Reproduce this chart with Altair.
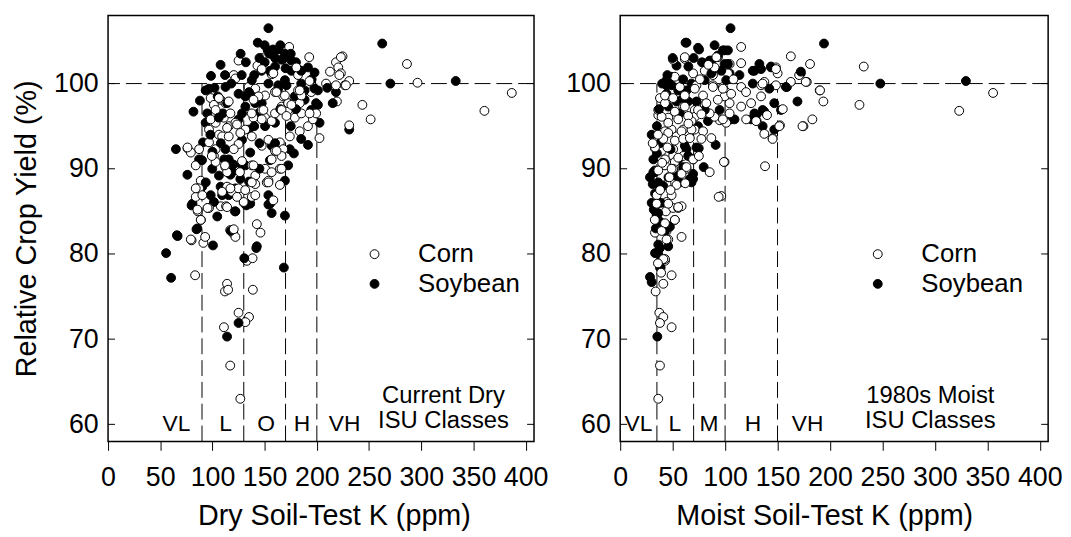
import altair as alt
import pandas as pd

FONT = "Liberation Sans"

# ---------------- data ----------------
corn_dry = [
    (83.4, 77.5), (114, 76.5), (112, 75.6), (115, 75.8), (138.7, 75.8), (125, 73.1), (135, 72.6), (131.5, 72),
    (111, 71.4), (117, 66.9), (126.7, 63), (80, 81.6), (91.3, 81.3), (93, 82), (89, 84), (86, 85), (95.7, 85.4),
    (142.5, 83.5), (146, 82.5), (117, 82.8), (120, 82.4), (122, 82), (133, 79.2), (138.4, 79.5), (108, 85.6),
    (113, 85.6), (130, 86), (173.5, 104.3), (192.7, 103.1), (224.6, 103.2), (218.3, 102.5), (220.5, 101.9),
    (212.6, 101.4), (223, 101.2), (231, 100.3), (226.8, 99.8), (208.8, 100), (286.3, 102.3), (296.4, 100.1),
    (360.5, 96.8), (386.7, 98.9), (251.5, 95.8), (243.6, 97.5), (231, 95.1), (219.2, 97.9), (202.5, 93.6),
    (125, 102.7), (147.2, 103), (143.1, 102.1), (156.7, 101.1), (182, 101.7), (182, 101), (194.6, 100.2),
    (194.6, 99), (120.4, 101), (122, 100.6), (134.6, 99.6), (141, 99.4), (98.3, 98.3), (101.4, 97.5),
    (107.8, 98.1), (112.5, 97.7), (99.8, 96.1), (103, 95.4), (110.9, 96), (115.6, 95), (96.7, 94.6), (106.2, 94),
    (109.3, 93.8), (96.7, 93.1), (103, 92.3), (101.4, 91.5), (76.1, 92.4), (87.2, 92.3), (79.3, 91.9), (84, 90.4),
    (88.8, 88.6), (85.6, 87.7), (84, 86.7), (85.6, 85.2), (122, 95.4), (131.5, 94.6), (139.3, 96), (147.2, 96.9),
    (150.4, 96), (156.7, 95.6), (159.9, 96.5), (166.2, 97.3), (172.5, 96.9), (178.9, 96), (183.6, 97.7),
    (185.2, 96.5), (191.5, 95), (196.2, 95.8), (199.3, 96.5), (159.9, 99), (167.8, 98.5), (182, 99.2),
    (185.2, 98.6), (172.5, 97.7), (115.6, 93.8), (125, 92.9), (137.7, 93.8), (147.2, 92.7), (153.6, 93.4),
    (159.9, 92.1), (164.6, 93.1), (167.8, 92.3), (174.1, 93.8), (183.6, 94.4), (103, 90.8), (112.5, 90.2),
    (114, 89.6), (120.4, 92.3), (128.3, 90.9), (137.7, 90.4), (141, 89.2), (150.4, 90), (152, 88.4), (156.7, 89.6),
    (164.6, 90), (166.2, 91.5), (164.6, 88.1), (87.2, 87.7), (96.7, 85.4), (114, 87.9), (118.8, 87.3), (125, 87.7),
    (129.9, 86.1), (137.7, 86.7), (141, 88.2), (153.6, 88.6), (158.3, 86.3), (161.4, 99), (169.4, 98.6),
    (150.4, 98.6), (144.1, 98.5), (139.3, 98.1), (183.6, 99.2), (175.6, 97.5), (166.2, 96.9), (148.8, 96.9),
    (137.7, 96.5), (147.2, 95.8), (170.9, 96.2), (193, 96.5), (106.2, 98.3), (115.6, 97.9), (103, 96.9),
    (98.3, 95.8), (117.2, 96.5), (114, 94.8), (123.5, 95.2), (126.7, 94.2), (76.1, 92.5), (99.4, 91.5),
    (112, 90.4), (126.3, 89.6), (84, 87.7), (90.3, 86.9), (109.3, 87.3), (117.2, 87.7), (131.4, 87.5),
    (123.5, 86.7), (114, 85.5), (95.3, 85.4), (88.8, 84), (79.3, 81.7), (120.4, 82.9), (161.4, 92.1),
    (156.7, 91.1), (139.3, 90.4), (166.2, 90), (153.6, 88.4), (137.7, 88.4), (141, 86.9), (223, 103.1),
    (221.5, 101), (227.8, 99.8), (218.3, 99.8), (147.2, 101.7), (158.3, 101.2), (180.4, 101.9), (193, 100.3),
]

soy_dry = [
    (153.6, 106.5), (143.4, 104.8), (152.9, 103.9), (163, 104), (107.8, 102.2), (98.6, 100.9), (167.8, 102.9),
    (175.6, 102.7), (191.5, 101.9), (262.6, 104.7), (270.4, 100), (333, 100.3), (81.8, 96.7), (65, 92.3),
    (76, 89.3), (80.9, 85.9), (191.5, 92.8), (231, 94.6), (218.3, 99), (201, 99.2), (201, 97.5), (174, 92.3),
    (172.5, 90.4), (156.7, 84.8), (169.4, 84.5), (104.6, 84.4), (122, 85), (93.5, 99.2), (93.5, 95.4), (91, 93.1),
    (87.2, 91.1), (90.3, 87.9), (112.5, 92.3), (111.2, 91.1), (117.2, 89.3), (128.3, 90.4), (136.2, 91.9),
    (156.7, 92.7), (169.4, 88.6), (153.6, 86.9), (141, 97.7), (144, 96.5), (153.6, 100), (163, 99.4),
    (169.4, 100.4), (175.6, 101.5), (178.9, 98.5), (188.3, 98.1), (194.6, 96.9), (199.3, 97.7), (125, 98.8),
    (131.5, 97.3), (125, 95.8), (134.6, 94.6), (128.3, 93.4), (112.5, 99.6), (150.4, 95), (159.9, 95.4),
    (115.6, 86.9), (122, 87.7), (99.8, 90), (106.2, 89.2), (168.4, 78.4), (114, 70.3), (125, 71.9), (130.5, 79.5),
    (142, 80.7), (66, 82.2), (55.6, 80.1), (60.4, 77.2), (84.7, 82.9), (100.5, 81), (117.5, 82.7), (153.6, 85.8),
    (132.4, 85.7), (80, 85.7), (121.6, 85), (169.4, 103.5), (166.2, 102.8), (197.8, 101.3), (137.7, 100.4),
    (163, 99.8), (170.9, 99.8), (188.3, 99.2), (197.8, 99.4), (215.2, 97.7), (202.6, 95.4), (137.7, 98.5),
    (147.2, 97.7), (172.5, 97.7), (96.7, 99.4), (131.5, 98.5), (128.3, 96.5), (114, 97.7), (115.6, 91.1),
    (126.7, 88.8), (131.5, 90.4), (98.3, 86.9), (93.6, 88.4), (109.3, 86.9), (155.2, 85.9), (142.5, 80.9),
    (136.2, 85.9), (66.6, 82.1), (85.6, 83), (101.4, 86.1), (107.8, 87.9), (118.8, 89.6), (118, 100), (128, 101),
    (147, 101.5), (160, 102), (158, 104), (150, 104.5), (135, 99), (105, 98.5), (110, 96.5), (98, 94), (140, 95),
    (145, 93), (155, 91), (160, 93), (175, 95), (180, 97), (185, 100), (195, 100.5), (100, 92), (120, 90.5),
    (135, 88.5), (145, 90), (165, 97), (210, 99.5), (145, 103), (150, 102.5), (155, 103.5), (160, 103),
    (165, 104.5), (170, 101.8), (175, 103.5), (180, 102.5), (185, 101.5), (155, 101.5), (140, 101),
    (132, 102.5), (127, 103.5), (112, 101), (102, 99.5), (88, 98), (95, 96.5), (106, 96), (90, 91), (108, 93),
    (185, 93.5), (178, 91.8),
]

corn_moist = [
    (37.3, 73.1), (41.1, 72.6), (37.9, 71.9), (49, 71.4), (37.9, 66.9), (36.3, 63), (49, 77.5), (41.1, 76.5),
    (33.8, 75.6), (42.7, 79.2), (33.2, 82.5), (37.9, 83.6), (44.2, 82.7), (45.8, 81.7), (52.1, 84), (58.5, 82),
    (43.6, 85), (50.5, 85.4), (55.3, 85.4), (58.5, 85.6), (35.4, 85.9), (115.3, 104.3), (162.7, 103.2),
    (181, 102.3), (232.2, 102), (323.2, 96.8), (355.5, 98.9), (228.1, 97.5), (193.7, 97.9), (190.2, 99.2),
    (177.9, 100.2), (183.2, 95.8), (174.7, 95), (152.3, 95.1), (145.3, 93.6), (137.4, 94.1), (138.1, 90.3),
    (99.5, 90.8), (85.3, 89.6), (96.4, 86.8), (134.3, 98.5), (134.3, 99.8), (137.4, 100.2), (148.5, 101.9),
    (150.1, 101.2), (148.5, 99.8), (162.7, 100.2), (170.6, 101), (115.3, 99.6), (115.3, 102.4), (115.3, 97.3),
    (124.8, 97.7), (120.1, 95.8), (130.1, 95.6), (104.3, 102.3), (102.7, 101.2), (104.3, 97.7), (101.1, 99),
    (101.1, 95.4), (94.8, 95.7), (90, 96.1), (85.3, 96.5), (93.2, 103.1), (88.4, 101), (88.4, 99.8), (97.9, 99.6),
    (99.5, 98.5), (80.6, 101.5), (72.7, 99.8), (79, 98.6), (80.6, 97.5), (71.1, 96.9), (71.1, 96.1), (68, 95.6),
    (71.1, 94.6), (61.6, 102.9), (50.5, 102.8), (52.1, 100.8), (56.9, 99.6), (60, 97.3), (60, 94.6), (37.9, 98.3),
    (36.3, 96.3), (42.7, 97.7), (45.8, 96), (49, 94.6), (42.7, 94.4), (53.7, 93.8), (33.2, 92.4), (39.5, 92.1),
    (50.5, 92.3), (50.5, 91.5), (52.1, 90.8), (42.7, 90.4), (50.5, 90), (58.5, 89.6), (63.2, 90), (44.2, 88.2),
    (49, 86.9), (44.2, 86.1), (55.3, 85.5), (60, 91.5), (69.5, 91.1), (98.9, 90.8), (93.9, 86.7), (42.7, 79.4),
    (61.6, 103.1), (69.5, 101.2), (91.7, 103.1), (90, 101.9), (42.7, 98.6), (36.3, 96.9), (39.5, 96.1),
    (50.5, 98.3), (61.6, 98.6), (71.1, 99.4), (88.4, 99.6), (97.9, 99.4), (105.8, 98.8), (82.1, 97.7),
    (93.1, 98.1), (74.2, 96.9), (61.6, 97.3), (52.1, 96.7), (45.8, 95.4), (55.3, 95.8), (64.8, 96.2),
    (77.4, 96.4), (97.9, 95.8), (104.3, 96.5), (58.5, 94.4), (68, 94.6), (79, 94.4), (45.8, 94.2), (41.1, 93.5),
    (52.1, 93.3), (60, 93.5), (66.4, 93.6), (77.4, 93.5), (86.9, 93.6), (135.8, 100), (148.5, 101.7),
    (176.9, 100.2), (190.5, 99.2), (129.6, 95.6), (151.7, 95), (145.3, 93.5), (173.8, 95), (33.2, 92.5),
    (42.7, 91.1), (55.3, 91.3), (69.5, 91.1), (36.3, 89.8), (49, 90), (58.5, 89.4), (63.2, 90.2), (53.7, 88.1),
    (34.8, 86.9), (45.8, 85.9), (34.8, 85.9), (52.1, 84), (42.7, 83.6), (39.5, 82.7), (44.2, 81.7), (41.1, 79.4),
    (31, 93), (36, 94), (40, 90.7), (45, 92.5), (47, 89), (38, 87.5), (33, 84), (36, 78.9), (39, 77.8),
    (48, 87.5), (62, 88.3), (75, 91.5), (65, 95.3), (76, 100.5), (84, 102.2), (108, 100.5), (120, 99),
    (140, 96.3), (155, 97),
]

soy_moist = [
    (105.2, 106.5), (194.3, 104.7), (248, 100), (329.6, 100.3), (62.3, 104.8), (75.2, 104), (85.3, 102.7),
    (97.9, 103.9), (102.7, 103.9), (113.7, 101), (126.4, 101.5), (132.7, 102.3), (134.3, 101.7), (143.8, 102),
    (159, 99.6), (169, 97.9), (172.2, 101.2), (146.9, 97.7), (153.3, 96.9), (135.8, 96.9), (129.6, 96.3),
    (124.8, 95.8), (135.8, 95), (146.9, 94.6), (126.4, 100), (91, 92.8), (74.9, 92.4), (79.6, 90.2), (69.5, 88.8),
    (105.9, 95.8), (83.7, 95.6), (44.2, 99.8), (53.7, 102.1), (49, 100.8), (63.2, 99.2), (68, 100), (58.5, 98.1),
    (61.6, 92.7), (55.3, 91.1), (52.1, 89.2), (56.9, 88.4), (68, 88.4), (33.2, 89.8), (36.3, 88.4), (33.2, 87.1),
    (34.8, 84.6), (74.2, 95), (99.5, 102.3), (104.3, 101.2), (80.6, 100.4), (34.8, 84.5), (33.2, 80.1),
    (38.6, 78.4), (28.4, 77.3), (30, 76.7), (35.4, 70.3), (44.2, 83.4), (47.4, 83.2), (36.3, 81.1), (33.2, 89.6),
    (36.3, 87.3), (37.9, 83.8), (36.3, 80), (63.2, 104.8), (74.2, 104.2), (99.5, 103.9), (93.2, 103.3),
    (86.9, 102.7), (102.7, 102.3), (96.4, 101.5), (86.9, 101.2), (101.1, 100.4), (44.2, 100.4), (49, 99.8),
    (44.2, 98.8), (55.3, 99.2), (64.8, 97.9), (53.7, 97.9), (72.7, 97.9), (45.8, 97.3), (56.9, 96.5),
    (80.6, 96.9), (94.8, 96.9), (128, 101.5), (143.8, 101.9), (142.2, 99.4), (158, 99.6), (172.2, 101.4),
    (128, 96.5), (137.4, 96.7), (109, 95.8), (72.7, 92.5), (63.2, 92.3), (66.4, 88.8), (69.5, 89.4),
    (31.6, 89.6), (36.3, 84.8), (37.9, 80.7), (37.9, 78.4), (45.8, 80.9), (42.7, 82.7), (28.4, 89),
    (31.6, 91.1), (60, 90.2), (64.8, 91.5), (30, 86), (31, 88.2), (35, 91.8), (38, 93), (32, 85.2), (34, 83),
    (39, 86), (41, 88), (46, 89), (48, 92.3), (30, 94), (35, 95), (37, 97), (40, 100), (45, 101), (50, 103),
    (60, 100.5), (65, 102), (70, 103), (78, 102.5), (90, 104.5),
]

crops = ["Corn", "Soybean"]
x_ticks = [0, 50, 100, 150, 200, 250, 300, 350, 400]
y_ticks = [60, 70, 80, 90, 100]

dry_bounds = [90, 130, 170, 200]
dry_classes = ["VL", "L", "O", "H", "VH"]
dry_class_x = [65.6, 112.6, 151.5, 185.7, 226.5]
dry_note = ["Current Dry", "ISU Classes"]

moist_bounds = [35, 70, 100, 150]
moist_classes = ["VL", "L", "M", "H", "VH"]
moist_class_x = [17.4, 52.2, 84.7, 126.5, 178.6]
moist_note = ["1980s Moist", "ISU Classes"]

# ---------------- layout constants ----------------
XMAX = 408
YMIN, YMAX = 58, 108
W1, W2, H = 430, 432, 430
TICK_IN = 7
DASH = [16, 6]


def panel(corn, soy, bounds, classes, class_x, note, note_x, xtitle, ytitle, title_x, W, leg_x, leg_y):
    xs = alt.Scale(domain=[0, XMAX], nice=False, zero=False)
    ys = alt.Scale(domain=[YMIN, YMAX], nice=False, zero=False)

    x_axis = alt.Axis(
        values=x_ticks, format="d", grid=False, domain=False, tickSize=9, tickColor="black",
        tickWidth=1, labelFontSize=27, labelFont=FONT, labelColor="black", labelPadding=15,
        labelFlush=False, labelOverlap=False, titleFontSize=29, titleFont=FONT,
        titleFontWeight="normal", titleColor="black", titlePadding=11, titleX=title_x,
    )
    y_axis = alt.Axis(
        values=y_ticks, format="d", grid=False, domain=False, ticks=False, labelFontSize=27,
        labelFont=FONT, labelColor="black", labelPadding=10, titleFontSize=29, titleFont=FONT,
        titleFontWeight="normal", titleColor="black", titlePadding=12,
    )

    def X(f):
        return alt.X(f, scale=xs, axis=x_axis, title=xtitle)

    def Y(f):
        return alt.Y(f, scale=ys, axis=y_axis, title=ytitle)

    rows = []
    for i in range(max(len(corn), len(soy))):
        if i < len(corn):
            rows.append({"k": corn[i][0], "yld": corn[i][1], "crop": crops[0]})
        if i < len(soy):
            rows.append({"k": soy[i][0], "yld": soy[i][1], "crop": crops[1]})
    pts = pd.DataFrame(rows)
    pts["ord"] = range(len(pts))

    vl_df = pd.DataFrame({"k": bounds, "lo": [YMIN] * len(bounds), "hi": [100] * len(bounds)})
    vlines = alt.Chart(vl_df).mark_rule(color="black", strokeWidth=1, strokeDash=DASH).encode(
        x=X("k:Q"), y=Y("lo:Q"), y2="hi:Q",
    )
    hline = alt.Chart(pd.DataFrame({"yld": [100]})).mark_rule(
        color="black", strokeWidth=1, strokeDash=DASH
    ).encode(y=Y("yld:Q"))

    tk = pd.DataFrame({"yld": y_ticks})
    ticks_l = alt.Chart(tk).mark_rule(color="black", strokeWidth=1).encode(
        y=Y("yld:Q"), x=alt.value(0), x2=alt.value(TICK_IN)
    )
    ticks_r = alt.Chart(tk).mark_rule(color="black", strokeWidth=1).encode(
        y=Y("yld:Q"), x=alt.value(W - TICK_IN), x2=alt.value(W)
    )

    points = alt.Chart(pts).mark_circle(
        size=80, stroke="black", strokeWidth=1, opacity=1, fillOpacity=1
    ).encode(
        x=X("k:Q"),
        y=Y("yld:Q"),
        fill=alt.Fill(
            "crop:N",
            scale=alt.Scale(domain=crops, range=["white", "black"]),
            legend=alt.Legend(
                title=None, orient="none", legendX=leg_x, legendY=leg_y, labelFontSize=26,
                labelFont=FONT, labelColor="black", symbolSize=80, symbolType="circle",
                symbolStrokeColor="black", symbolStrokeWidth=1, rowPadding=4, labelOffset=31,
                padding=0,
            ),
        ),
        order="ord:Q",
    )

    cls = pd.DataFrame({"lab": classes, "k": class_x, "yld": [60] * len(classes)})
    cls_text = alt.Chart(cls).mark_text(
        fontSize=23, font=FONT, color="black", align="center", baseline="middle"
    ).encode(x=X("k:Q"), y=Y("yld:Q"), text="lab:N")

    nt = pd.DataFrame({"lab": note, "k": [note_x] * len(note), "yld": [63.35, 60.36]})
    note_text = alt.Chart(nt).mark_text(
        fontSize=24, font=FONT, color="black", align="center", baseline="middle"
    ).encode(x=X("k:Q"), y=Y("yld:Q"), text="lab:N")

    return alt.layer(vlines, hline, ticks_l, ticks_r, points, cls_text, note_text).properties(
        width=W, height=H
    )


left = panel(corn_dry, soy_dry, dry_bounds, dry_classes, dry_class_x, dry_note, 321.3,
             "Dry Soil-Test K (ppm)", "Relative Crop Yield (%)", 228, W1, 256, 228)
right = panel(corn_moist, soy_moist, moist_bounds, moist_classes, moist_class_x, moist_note, 295.7,
              "Moist Soil-Test K (ppm)", None, 206, W2, 247, 228)

chart = (
    alt.hconcat(left, right, spacing=87, bounds="flush")
    .resolve_scale(fill="independent")
    .resolve_legend(fill="independent")
    .properties(padding={"left": 4, "top": 4, "right": 0, "bottom": 0})
    .configure(font=FONT)
    .configure_view(stroke="black", strokeWidth=1.5)
)

chart.save("out.html", embed_options={"renderer": "svg", "actions": False})
